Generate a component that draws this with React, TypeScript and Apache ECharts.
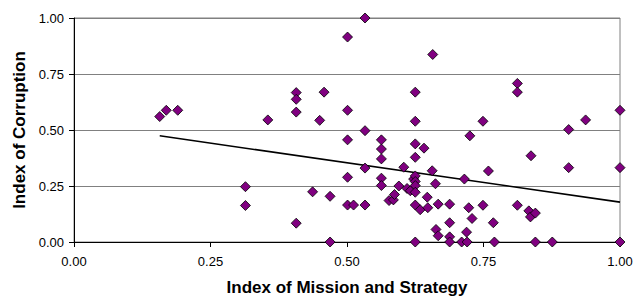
import React, { useEffect, useRef } from "react";
import * as echarts from "echarts";

const missionIndex: number[] = [
  0.157, 0.169, 0.19, 0.314, 0.314, 0.355, 0.407, 0.407, 0.407, 0.407,
  0.437, 0.45, 0.458, 0.469, 0.469, 0.501, 0.501, 0.501, 0.501, 0.501,
  0.512, 0.533, 0.533, 0.533, 0.533, 0.563, 0.563, 0.563, 0.563, 0.563,
  0.577, 0.585, 0.587, 0.595, 0.604, 0.61, 0.616, 0.622, 0.625, 0.625,
  0.625, 0.625, 0.625, 0.625, 0.625, 0.625, 0.625, 0.625, 0.634, 0.641,
  0.647, 0.648, 0.656, 0.657, 0.662, 0.663, 0.667, 0.667, 0.688, 0.688,
  0.688, 0.688, 0.71, 0.715, 0.719, 0.72, 0.723, 0.725, 0.729, 0.749,
  0.749, 0.759, 0.768, 0.77, 0.812, 0.812, 0.812, 0.833, 0.836, 0.837,
  0.845, 0.845, 0.876, 0.906, 0.906, 0.937, 1.0, 1.0, 1.0,
];

const corruptionIndex: number[] = [
  0.56, 0.588, 0.588, 0.247, 0.163, 0.545, 0.667, 0.637, 0.58, 0.084,
  0.224, 0.543, 0.669, 0.204, 0, 0.915, 0.588, 0.456, 0.289, 0.165,
  0.165, 1.0, 0.497, 0.33, 0.165, 0.456, 0.415, 0.371, 0.285, 0.252,
  0.185, 0.188, 0.212, 0.25, 0.334, 0.239, 0.229, 0.281, 0.669, 0.539,
  0.438, 0.378, 0.295, 0.27, 0.252, 0.222, 0.165, 0, 0.144, 0.419,
  0.2, 0.153, 0.318, 0.837, 0.26, 0.056, 0.169, 0.028, 0.169, 0.086,
  0.023, 0, 0, 0.281, 0.044, 0, 0.153, 0.474, 0.105, 0.539,
  0.164, 0.317, 0.086, 0, 0.708, 0.669, 0.164, 0.139, 0.112, 0.385,
  0.129, 0, 0, 0.502, 0.332, 0.545, 0.588, 0.332, 0,
];

const trendX: number[] = [0.157, 1.0];
const trendY: number[] = [0.474, 0.178];

const tickValues: number[] = [0, 0.25, 0.5, 0.75, 1.0];

const FONT = "'Liberation Sans', Arial, sans-serif";

export default function App() {
  const ref = useRef<HTMLDivElement>(null);

  useEffect(() => {
    if (!ref.current) return;
    const chart = echarts.init(ref.current, undefined, { renderer: "svg" });
    const points = missionIndex.map((x, i) => [x, corruptionIndex[i]]);
    const trend = trendX.map((x, i) => [x, trendY[i]]);
    const fmt = (v: number) => v.toFixed(2);
    chart.setOption({
      animation: false,
      backgroundColor: "#ffffff",
      grid: {
        left: 74,
        right: 16,
        top: 18,
        bottom: 57,
        show: true,
        borderColor: "#808080",
        borderWidth: 1,
        containLabel: false,
      },
      xAxis: {
        type: "value",
        min: tickValues[0],
        max: tickValues[tickValues.length - 1],
        interval: 0.25,
        name: "Index of Mission and Strategy",
        nameLocation: "middle",
        nameGap: 37,
        nameTextStyle: { fontFamily: FONT, fontSize: 17, fontWeight: "bold", color: "#000" },
        axisLine: { show: true, onZero: false, lineStyle: { color: "#000", width: 1 } },
        axisTick: { show: true, inside: false, length: 5, lineStyle: { color: "#000" } },
        axisLabel: { fontFamily: FONT, fontSize: 13, color: "#000", margin: 13, formatter: fmt },
        splitLine: { show: false },
      },
      yAxis: {
        type: "value",
        min: tickValues[0],
        max: tickValues[tickValues.length - 1],
        interval: 0.25,
        name: "Index of Corruption",
        nameLocation: "middle",
        nameGap: 46,
        nameRotate: 90,
        nameTextStyle: { fontFamily: FONT, fontSize: 17, fontWeight: "bold", color: "#000" },
        axisLine: { show: true, onZero: false, lineStyle: { color: "#000", width: 1 } },
        axisTick: { show: true, inside: false, length: 5, lineStyle: { color: "#000" } },
        axisLabel: { fontFamily: FONT, fontSize: 13, color: "#000", margin: 10, formatter: fmt },
        splitLine: { show: true, lineStyle: { color: "#808080", width: 1 } },
      },
      series: [
        {
          type: "scatter",
          data: points,
          symbol: "diamond",
          symbolSize: 10,
          itemStyle: { color: "#800080", borderColor: "#000", borderWidth: 0.8, opacity: 1 },
          z: 3,
        },
        {
          type: "line",
          data: trend,
          showSymbol: false,
          symbol: "none",
          lineStyle: { color: "#000", width: 1.6 },
          z: 2,
        },
      ],
    });
    return () => chart.dispose();
  }, []);

  return (
    <div
      ref={ref}
      style={{ position: "fixed", left: 0, top: 0, width: 636, height: 301 }}
    />
  );
}
